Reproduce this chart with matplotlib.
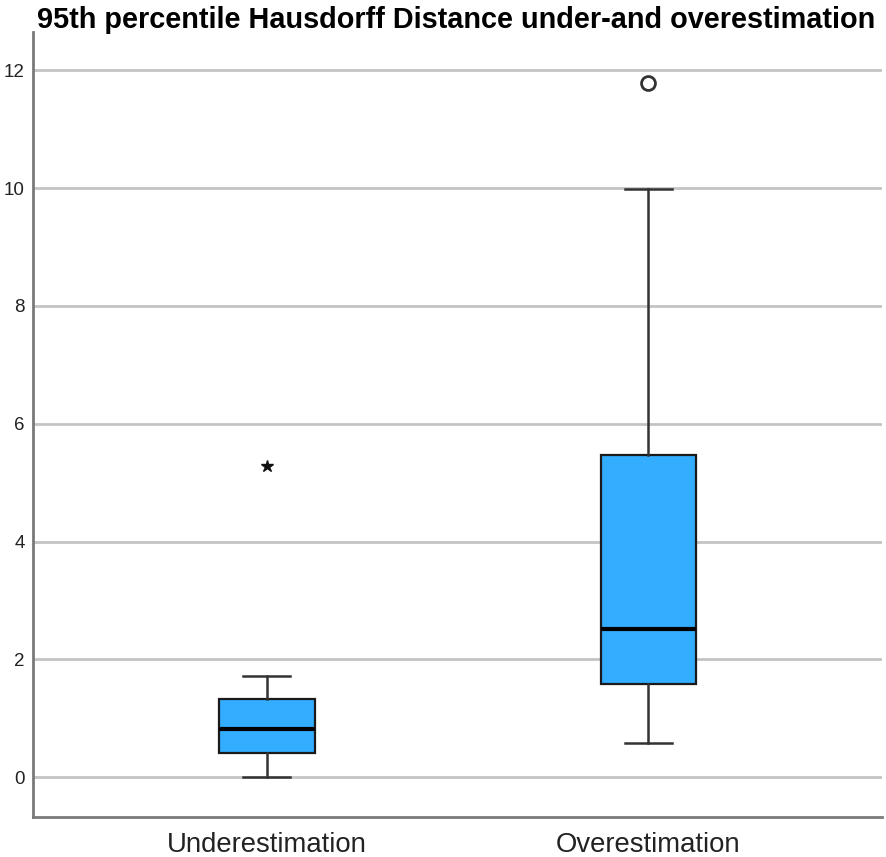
import matplotlib
matplotlib.use("Agg")
import matplotlib.pyplot as plt

plt.rcParams['font.family'] = ['Liberation Sans', 'DejaVu Sans']

categories = ["Underestimation", "Overestimation"]
whisker_low = [0.0, 0.59]
q1 = [0.41, 1.59]
median = [0.82, 2.52]
q3 = [1.33, 5.47]
whisker_high = [1.72, 9.98]
outliers = [[5.28], [11.78]]
outlier_markers = ['*', 'o']
yticks = [0, 2, 4, 6, 8, 10, 12]
title = "95th percentile Hausdorff Distance under-and overestimation"

fig = plt.figure(figsize=(8.86, 8.57), dpi=100)
ax = fig.add_axes([0.0372, 0.0467, 0.9583, 0.916])

stats = []
for i, c in enumerate(categories):
    stats.append(dict(label=c, whislo=whisker_low[i], q1=q1[i], med=median[i],
                      q3=q3[i], whishi=whisker_high[i], fliers=[]))

bp = ax.bxp(stats, positions=range(len(categories)), widths=0.25,
            patch_artist=True, showfliers=False,
            boxprops=dict(facecolor='#33adff', edgecolor='#1a1a1a', linewidth=1.6),
            medianprops=dict(color='black', linewidth=3),
            whiskerprops=dict(color='#333333', linewidth=1.8),
            capprops=dict(color='#333333', linewidth=1.8),
            capwidths=0.123, zorder=3)

for i, (vals, m) in enumerate(zip(outliers, outlier_markers)):
    if m == 'o':
        ax.plot([i] * len(vals), vals, linestyle='none', marker='o', markersize=10,
                markerfacecolor='white', markeredgecolor='#333333', markeredgewidth=2, zorder=4)
    else:
        ax.plot([i] * len(vals), vals, linestyle='none', marker='*', markersize=9,
                markerfacecolor='#111111', markeredgecolor='#111111', zorder=4)

ax.set_xlim(-0.613, 1.612)
ax.set_ylim(-0.674, 12.65)
ax.set_yticks(yticks)
ax.set_yticklabels([str(t) for t in yticks], fontsize=13.5, color='#222222')
ax.set_xticks(range(len(categories)))
ax.set_xticklabels(categories, fontsize=19.8, color='#222222')
ax.tick_params(axis='both', length=0)
ax.tick_params(axis='y', pad=6)
ax.tick_params(axis='x', pad=10.5)

ax.yaxis.grid(True, color='#c4c4c4', linewidth=2, zorder=0)
ax.set_axisbelow(True)
for s in ['top', 'right']:
    ax.spines[s].set_visible(False)
for s in ['left', 'bottom']:
    ax.spines[s].set_color('#7a7a7a')
    ax.spines[s].set_linewidth(2)

fig.text(0.042, 0.977, title, fontsize=20.8, fontweight='bold', ha='left', va='center')

fig.savefig("out.png", dpi=100)
